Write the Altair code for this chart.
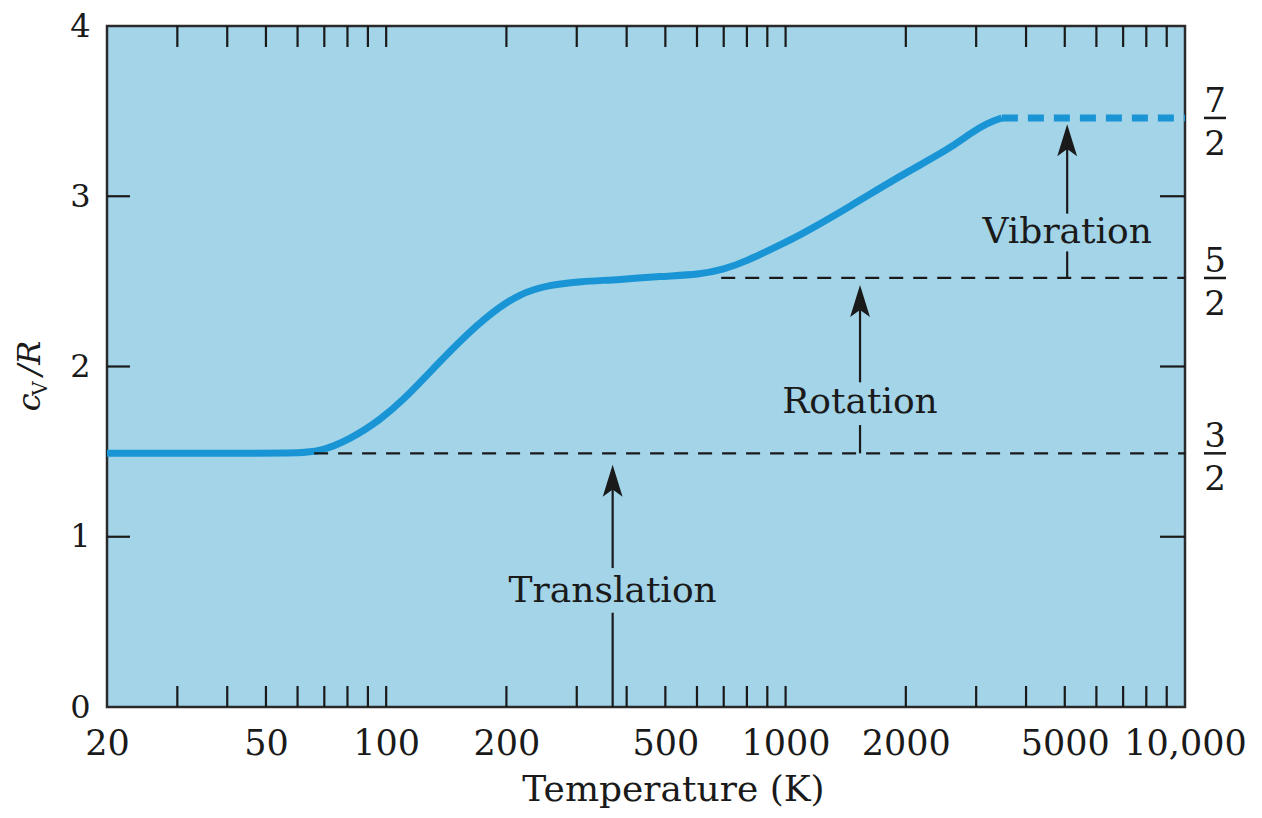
import altair as alt
import pandas as pd

W, H = 1078, 681

# ---- data ----
curve_T = [20, 34, 61, 68, 81, 97, 110, 129, 153, 182, 216, 257, 306, 385, 485,
           610, 700, 800, 940, 1086, 1450, 1934, 2580, 2900, 3200, 3480]
curve_cv = [1.49, 1.49, 1.49, 1.50, 1.57, 1.69, 1.80, 1.97, 2.15, 2.31, 2.43, 2.48,
            2.50, 2.51, 2.53, 2.54, 2.57, 2.62, 2.70, 2.77, 2.94, 3.12, 3.28, 3.37, 3.43, 3.46]
dash_T = [3480, 10000]
dash_cv = [3.46, 3.46]

level_start_T = [66, 690]
level_end_T = [10000, 10000]
level_cv = [1.49, 2.52]

x_label_values = [20, 50, 100, 200, 500, 1000, 2000, 5000, 10000]
x_minor_ticks = [30, 40, 50, 60, 70, 80, 90, 100,
                 200, 300, 400, 500, 600, 700, 800, 900, 1000,
                 2000, 3000, 4000, 5000, 6000, 7000, 8000, 9000]
y_tick_values = [1, 2, 3]
y_label_values = [0, 1, 2, 3, 4]

arrow_names = ["Translation", "Rotation", "Vibration"]
arrow_T = [369, 1536, 5070]
arrow_base = [0.0, 1.49, 2.52]
arrow_gap_lo = [0.554, 1.656, 2.676]
arrow_gap_hi = [0.816, 1.907, 2.898]
arrow_shaft_end = [1.31, 2.36, 3.31]
arrow_tip = [1.423, 2.478, 3.423]
arrow_label_cv = [0.68, 1.79, 2.79]

frac_num = ["7", "5", "3"]
frac_den = ["2", "2", "2"]
frac_cv = [3.46, 2.52, 1.49]

ytitle_parts = ["c", "V", "/R"]
ytitle_cv = [1.79, 1.87, 2.05]

# ---- styles ----
FONT = "DejaVu Serif"
BG = "#A3D4E8"
BLUE = "#1995D5"
INK = "#1a1a1a"

xscale = alt.Scale(type="log", domain=[20, 10000], nice=False)
yscale = alt.Scale(domain=[0, 4], nice=False, zero=False)

curve_df = pd.DataFrame({"T": curve_T, "cv": curve_cv})
dash_df = pd.DataFrame({"T": dash_T, "cv": dash_cv})
level_df = pd.DataFrame({"T": level_start_T, "T2": level_end_T, "cv": level_cv})
minor_df = pd.DataFrame({"T": x_minor_ticks})
ytick_df = pd.DataFrame({"cv": y_tick_values})

arrows_df = pd.DataFrame({
    "name": arrow_names, "T": arrow_T, "base": arrow_base,
    "lo": arrow_gap_lo, "hi": arrow_gap_hi, "end": arrow_shaft_end,
    "tip": arrow_tip, "lab": arrow_label_cv,
})
frac_df = pd.DataFrame({"num": frac_num, "den": frac_den, "cv": frac_cv})
ytitle_df = pd.DataFrame({"part": ytitle_parts, "cv": ytitle_cv})

x_axis = alt.Axis(
    values=x_label_values, ticks=False, tickSize=0, domain=False, grid=False,
    labelExpr="datum.value == 10000 ? '10,000' : format(datum.value, 'd')",
    labelFont=FONT, labelFontSize=35, labelColor=INK, labelPadding=19,
    labelFlush=False, labelOverlap=False,
    title="Temperature (K)", titleFont=FONT, titleFontSize=36,
    titleFontWeight="normal", titleColor=INK, titleX=566, titleY=93,
    titleBaseline="alphabetic", titleAlign="center",
)
y_axis = alt.Axis(
    values=y_label_values, ticks=False, tickSize=0, domain=False, grid=False,
    labelFont=FONT, labelFontSize=32, labelColor=INK, labelPadding=17,
    labelFlush=False, labelOverlap=False, labelBaseline="middle",
    title=None,
)


def X(field="T"):
    return alt.X(f"{field}:Q", scale=xscale, axis=x_axis)


def Y(field="cv"):
    return alt.Y(f"{field}:Q", scale=yscale, axis=y_axis)


curve = alt.Chart(curve_df).mark_line(
    color=BLUE, strokeWidth=7, interpolate="basis", strokeCap="butt"
).encode(x=X(), y=Y())

dash = alt.Chart(dash_df).mark_line(
    color=BLUE, strokeWidth=7, strokeDash=[16, 10], strokeCap="butt"
).encode(x=X(), y=Y())

levels = alt.Chart(level_df).mark_rule(
    color=INK, strokeWidth=2.2, strokeDash=[14, 10]
).encode(x=X(), x2="T2:Q", y=Y())

tick_len = 21
ticks_bottom = alt.Chart(minor_df).mark_rule(color=INK, strokeWidth=2.2).encode(
    x=X(), y=alt.value(H), y2=alt.value(H - tick_len)
)
ticks_top = alt.Chart(minor_df).mark_rule(color=INK, strokeWidth=2.2).encode(
    x=X(), y=alt.value(0), y2=alt.value(tick_len)
)
ticks_left = alt.Chart(ytick_df).mark_rule(color=INK, strokeWidth=2.2).encode(
    y=Y(), x=alt.value(0), x2=alt.value(tick_len + 2)
)
ticks_right = alt.Chart(ytick_df).mark_rule(color=INK, strokeWidth=2.2).encode(
    y=Y(), x=alt.value(W - tick_len - 4), x2=alt.value(W)
)

shaft_lo = alt.Chart(arrows_df).mark_rule(color=INK, strokeWidth=2.2).encode(
    x=X(), y=Y("base"), y2="lo:Q",
)
shaft_hi = alt.Chart(arrows_df).mark_rule(color=INK, strokeWidth=2.2).encode(
    x=X(), y=Y("hi"), y2="end:Q",
)
heads = alt.Chart(arrows_df).mark_point(
    shape="M0,0L0.62,2L0,1.55L-0.62,2Z", size=1024, filled=True,
    color=INK, opacity=1, strokeWidth=0,
).encode(x=X(), y=Y("tip"))
arrow_labels = alt.Chart(arrows_df).mark_text(
    font=FONT, fontSize=36, color=INK, align="center", baseline="middle"
).encode(x=X(), y=Y("lab"), text="name:N")

frac_x = 1108
frac_top = alt.Chart(frac_df).mark_text(
    font=FONT, fontSize=34, color=INK, align="center", baseline="alphabetic", dy=-6
).encode(x=alt.value(frac_x), y=Y(), text="num:N")
frac_bot = alt.Chart(frac_df).mark_text(
    font=FONT, fontSize=34, color=INK, align="center", baseline="alphabetic", dy=37
).encode(x=alt.value(frac_x), y=Y(), text="den:N")
frac_bar = alt.Chart(frac_df).mark_rule(color=INK, strokeWidth=2.5).encode(
    x=alt.value(frac_x - 11), x2=alt.value(frac_x + 11), y=Y(),
)

yt_c = alt.Chart(ytitle_df[ytitle_df.part == "c"]).mark_text(
    font=FONT, fontSize=32, fontStyle="italic", color=INK, angle=270,
    align="center", baseline="alphabetic"
).encode(x=alt.value(-67), y=Y(), text="part:N")
yt_v = alt.Chart(ytitle_df[ytitle_df.part == "V"]).mark_text(
    font=FONT, fontSize=20, color=INK, angle=270,
    align="center", baseline="alphabetic"
).encode(x=alt.value(-60), y=Y(), text="part:N")
yt_r = alt.Chart(ytitle_df[ytitle_df.part == "/R"]).mark_text(
    font=FONT, fontSize=32, fontStyle="italic", color=INK, angle=270,
    align="center", baseline="alphabetic"
).encode(x=alt.value(-67), y=Y(), text="part:N")

chart = alt.layer(
    curve, dash, levels, ticks_bottom, ticks_top, ticks_left, ticks_right,
    shaft_lo, shaft_hi, heads, arrow_labels, frac_top, frac_bot, frac_bar,
    yt_c, yt_v, yt_r,
).properties(
    width=W, height=H,
    autosize=alt.AutoSizeParams(type="none"),
    padding={"left": 99, "top": 18, "right": 66, "bottom": 102},
).configure(
    background="white"
).configure_view(
    fill=BG, stroke="#2a2a2a", strokeWidth=2.5
)

chart.save("out.html", embed_options={"renderer": "svg", "actions": False})
